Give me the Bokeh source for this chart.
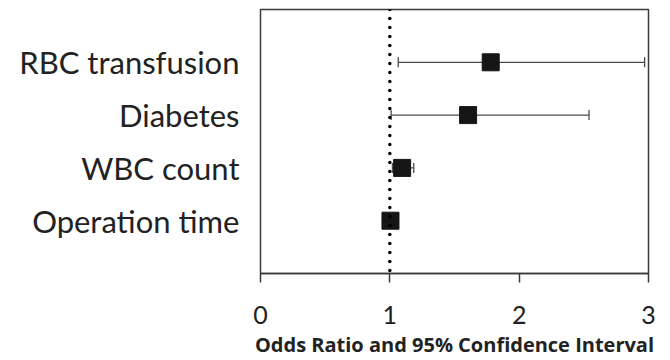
from bokeh.plotting import figure
from bokeh.models import ColumnDataSource, Span, Whisker, TeeHead, FixedTicker, Range1d
from bokeh.embed import file_html
from bokeh.resources import INLINE

factors = ["RBC transfusion", "Diabetes", "WBC count", "Operation time"]
odds = [1.78, 1.605, 1.095, 1.005]
ci_low = [1.065, 1.01, 1.02, 0.99]
ci_high = [2.97, 2.54, 1.185, 1.02]
x_ticks = [0, 1, 2, 3]
x_label = "Odds Ratio and 95% Confidence Interval"

ypos = list(range(len(factors), 0, -1))
src = ColumnDataSource(dict(y=ypos, odds=odds, lo=ci_low, hi=ci_high, name=factors))

p = figure(width=670, height=360, output_backend="svg", toolbar_location=None,
           x_range=Range1d(0, 3), y_range=Range1d(0, len(factors) + 1),
           min_border_left=260, min_border_right=22, min_border_top=9, min_border_bottom=87)
p.grid.visible = False
p.outline_line_color = "#3a3a3a"
p.outline_line_width = 1.5
p.background_fill_color = "white"
p.border_fill_color = "white"

ref = Span(location=1, dimension="height", line_color="black", line_width=3.5,
           line_dash="0 9", line_cap="round")
p.add_layout(ref)

wh = Whisker(source=src, base="y", lower="lo", upper="hi", dimension="width",
             line_color="#4a4a4a", line_width=1.3,
             lower_head=TeeHead(size=10, line_color="#4a4a4a", line_width=1.3),
             upper_head=TeeHead(size=10, line_color="#4a4a4a", line_width=1.3))
wh.level = "underlay"
p.add_layout(wh)

p.scatter(x="odds", y="y", source=src, marker="square", size=17,
          fill_color="#151515", line_color="#151515")

# x axis
xa = p.xaxis[0]
xa.ticker = FixedTicker(ticks=x_ticks)
xa.minor_tick_line_color = None
xa.major_tick_in = 0
xa.major_tick_out = 9
xa.axis_line_color = "#3a3a3a"
xa.axis_line_width = 1.5
xa.major_tick_line_color = "#3a3a3a"
xa.major_tick_line_width = 1.5
xa.major_label_text_font = "Lato"
xa.major_label_text_font_size = "25px"
xa.major_label_text_color = "#222222"
xa.major_label_standoff = 23
xa.axis_label = x_label
xa.axis_label_text_font = "Open Sans"
xa.axis_label_text_font_style = "bold"
xa.axis_label_text_font_size = "20px"
xa.axis_label_text_color = "#222222"
xa.axis_label_standoff = 4

# y axis
ya = p.yaxis[0]
ya.ticker = FixedTicker(ticks=ypos)
ya.major_label_overrides = {y: n for y, n in zip(ypos, factors)}
ya.axis_line_color = None
ya.major_tick_line_color = None
ya.minor_tick_line_color = None
ya.major_tick_out = 0
ya.major_tick_in = 0
ya.major_label_standoff = 21
ya.major_label_text_font = "Lato"
ya.major_label_text_font_size = "31px"
ya.major_label_text_color = "#222222"

open("out.html", "w").write(file_html(p, INLINE))
